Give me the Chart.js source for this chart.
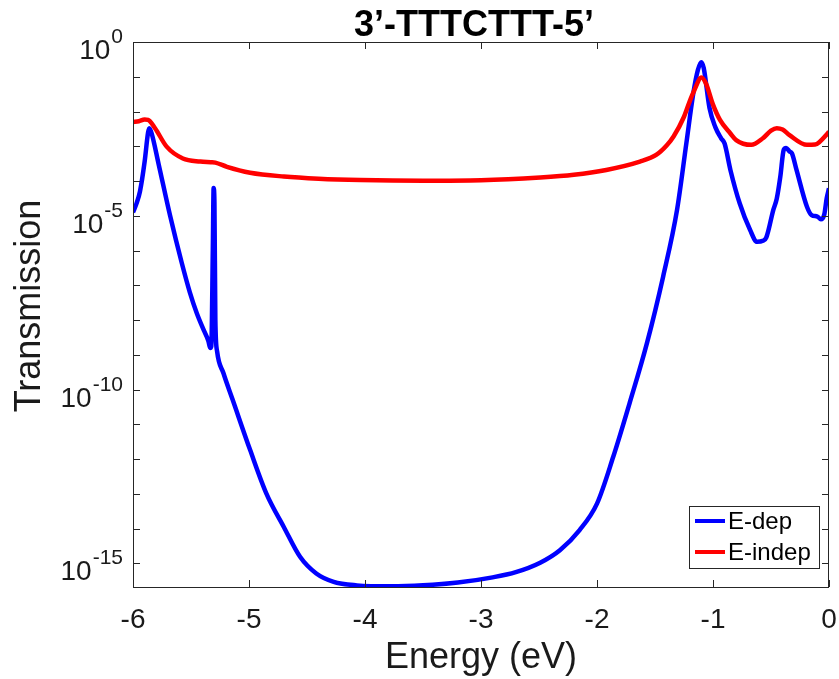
<!DOCTYPE html>
<html>
<head>
<meta charset="utf-8">
<script src="https://cdn.jsdelivr.net/npm/chart.js@4.4.1/dist/chart.umd.min.js"></script>
<style>
  html, body { margin: 0; padding: 0; background: #fff; }
  #wrap { width: 839px; height: 679px; }
</style>
</head>
<body>
<div id="wrap"><canvas id="chart"></canvas></div>
<script>
const chartTitle = "3\u2019-TTTCTTT-5\u2019";
const xTitle = "Energy (eV)";
const yTitle = "Transmission";

// E-dep (blue)
const energyDep = [
  -6.00, -5.97, -5.94, -5.90, -5.87, -5.86, -5.84, -5.78, -5.68, -5.58,
  -5.51, -5.45, -5.39, -5.35, -5.335, -5.325, -5.312, -5.305, -5.298, -5.29,
  -5.275, -5.22, -5.14, -4.99, -4.85, -4.70, -4.56, -4.42, -4.27, -4.07,
  -3.78, -3.50, -3.20, -2.90, -2.70, -2.49, -2.32, -2.15, -2.00, -1.86,
  -1.72, -1.57, -1.43, -1.31, -1.23, -1.17, -1.13, -1.10, -1.08, -1.03,
  -0.98, -0.93, -0.90, -0.85, -0.77, -0.68, -0.62, -0.57, -0.54, -0.48,
  -0.45, -0.42, -0.39, -0.37, -0.34, -0.32, -0.28, -0.19, -0.15, -0.10,
  -0.07, -0.04, -0.02, 0.00
];
const transDep = [
  1.26e-5, 2.24e-5, 5.01e-5, 3.55e-4, 2.51e-3, 3.31e-3, 2.40e-3, 3.16e-4, 1.00e-5, 4.47e-7,
  6.31e-8, 1.58e-8, 5.13e-9, 2.51e-9, 1.58e-9, 1.78e-9, 1.0e-6, 6.31e-5, 2.51e-5, 1.0e-8,
  1.26e-9, 2.95e-10, 5.01e-11, 1.82e-12, 1.02e-13, 1.12e-14, 1.55e-15, 5.13e-16, 2.95e-16, 2.34e-16,
  2.19e-16, 2.34e-16, 2.82e-16, 3.98e-16, 5.62e-16, 1.05e-15, 2.40e-15, 9.12e-15, 5.25e-14, 1.17e-12,
  3.98e-11, 2.14e-9, 1.78e-7, 1.48e-5, 1.20e-3, 3.31e-2, 0.158, 0.263, 0.178, 1.26e-2,
  3.55e-3, 1.70e-3, 1.20e-3, 2.09e-4, 2.29e-5, 3.89e-6, 1.78e-6, 1.91e-6, 2.40e-6, 1.48e-5,
  3.16e-5, 1.32e-4, 7.94e-4, 8.91e-4, 7.08e-4, 6.31e-4, 2.09e-4, 1.82e-5, 1.05e-5, 9.55e-6,
  7.94e-6, 1.12e-5, 3.16e-5, 6.17e-5
];

// E-indep (red)
const energyIndep = [
  -6.00, -5.95, -5.90, -5.87, -5.81, -5.71, -5.57, -5.42, -5.33, -5.29,
  -5.19, -4.99, -4.70, -4.40, -4.04, -3.50, -3.00, -2.49, -2.20, -1.92,
  -1.63, -1.49, -1.40, -1.34, -1.25, -1.20, -1.16, -1.10, -1.06, -1.00,
  -0.94, -0.85, -0.80, -0.67, -0.57, -0.50, -0.45, -0.40, -0.34, -0.19,
  -0.12, -0.08, -0.03, 0.00
];
const transIndep = [
  5.01e-3, 5.25e-3, 5.89e-3, 5.75e-3, 3.31e-3, 9.77e-4, 4.47e-4, 3.63e-4, 3.47e-4, 3.39e-4,
  2.57e-4, 1.74e-4, 1.35e-4, 1.17e-4, 1.07e-4, 1.02e-4, 1.05e-4, 1.26e-4, 1.51e-4, 2.09e-4,
  3.63e-4, 5.62e-4, 1.05e-3, 1.91e-3, 7.08e-3, 2.00e-2, 4.17e-2, 9.55e-2, 6.31e-2, 1.58e-2,
  5.75e-3, 2.34e-3, 1.51e-3, 1.10e-3, 1.70e-3, 2.82e-3, 3.31e-3, 3.02e-3, 2.09e-3, 1.10e-3,
  1.12e-3, 1.35e-3, 2.00e-3, 2.63e-3
];

const xTicks = [-6, -5, -4, -3, -2, -1, 0];
const xTickLabels = ["-6", "-5", "-4", "-3", "-2", "-1", "0"];
const yTicks = [1, 1e-1, 1e-2, 1e-3, 1e-4, 1e-5, 1e-6, 1e-7, 1e-8, 1e-9, 1e-10, 1e-11, 1e-12, 1e-13, 1e-14, 1e-15];
const yLabelValues = [1, 1e-5, 1e-10, 1e-15];
const yLabelExps = ["0", "-5", "-10", "-15"];

const FONT = "'Liberation Sans', Arial, Helvetica, sans-serif";
const AXIS = "#262626";

const matlabAxes = {
  id: "matlabAxes",
  afterDatasetsDraw(chart) {
    const { ctx, chartArea: a } = chart;
    const xs = chart.scales.x, ys = chart.scales.y;
    ctx.save();

    // box
    ctx.strokeStyle = AXIS;
    ctx.lineWidth = 1;
    ctx.strokeRect(a.left + 0.5, a.top + 0.5, a.right - a.left - 1, a.bottom - a.top);

    // ticks, pointing inwards
    const tl = 7;
    ctx.beginPath();
    xTicks.forEach(v => {
      const px = Math.round(xs.getPixelForValue(v)) + 0.5;
      ctx.moveTo(px, a.bottom); ctx.lineTo(px, a.bottom - tl);
      ctx.moveTo(px, a.top); ctx.lineTo(px, a.top + tl);
    });
    yTicks.forEach(v => {
      const py = Math.round(ys.getPixelForValue(v)) + 0.5;
      ctx.moveTo(a.left, py); ctx.lineTo(a.left + tl, py);
      ctx.moveTo(a.right, py); ctx.lineTo(a.right - tl, py);
    });
    ctx.stroke();

    // x tick labels
    ctx.fillStyle = "#1a1a1a";
    ctx.font = "28px " + FONT;
    ctx.textAlign = "center";
    ctx.textBaseline = "alphabetic";
    xTicks.forEach((v, i) => {
      ctx.fillText(xTickLabels[i], xs.getPixelForValue(v), a.bottom + 41);
    });

    // y tick labels 10^n
    yLabelValues.forEach((v, i) => {
      const py = ys.getPixelForValue(v);
      const right = a.left - 10;
      ctx.font = "21px " + FONT;
      ctx.textAlign = "right";
      ctx.textBaseline = "alphabetic";
      const ew = ctx.measureText(yLabelExps[i]).width;
      ctx.fillText(yLabelExps[i], right, py + 1);
      ctx.font = "28px " + FONT;
      ctx.fillText("10", right - ew - 1, py + 17);
    });

    // axis titles
    ctx.font = "36px " + FONT;
    ctx.textAlign = "center";
    ctx.textBaseline = "middle";
    ctx.fillText(xTitle, (a.left + a.right) / 2, 658);
    ctx.save();
    ctx.translate(30, 306);
    ctx.rotate(-Math.PI / 2);
    ctx.fillText(yTitle, 0, 0);
    ctx.restore();

    // title
    ctx.fillStyle = "#000";
    ctx.font = "bold 36px " + FONT;
    ctx.textBaseline = "alphabetic";
    ctx.fillText(chartTitle, 474, 36);

    // legend
    const lx = 689, ly = 506, lw = 130, lh = 62;
    ctx.fillStyle = "#fff";
    ctx.fillRect(lx, ly, lw, lh);
    ctx.strokeStyle = AXIS;
    ctx.lineWidth = 1;
    ctx.strokeRect(lx + 0.5, ly + 0.5, lw, lh);
    chart.data.datasets.forEach((ds, i) => {
      const yy = ly + 15 + i * 31;
      ctx.strokeStyle = ds.borderColor;
      ctx.lineWidth = 4;
      ctx.beginPath();
      ctx.moveTo(lx + 6, yy); ctx.lineTo(lx + 36, yy);
      ctx.stroke();
      ctx.fillStyle = "#000";
      ctx.font = "24px " + FONT;
      ctx.textAlign = "left";
      ctx.textBaseline = "middle";
      ctx.fillText(ds.label, lx + 39, yy + 1);
    });

    ctx.restore();
  }
};

const ctx = document.getElementById("chart");
new Chart(ctx, {
  type: "line",
  data: {
    datasets: [
      {
        label: "E-dep",
        data: energyDep.map((e, i) => ({ x: e, y: transDep[i] })),
        borderColor: "#0000ff",
        borderWidth: 4.5,
        pointRadius: 0,
        cubicInterpolationMode: "monotone",
        fill: false,
        order: 2,
      },
      {
        label: "E-indep",
        data: energyIndep.map((e, i) => ({ x: e, y: transIndep[i] })),
        borderColor: "#ff0000",
        borderWidth: 4.5,
        pointRadius: 0,
        cubicInterpolationMode: "monotone",
        fill: false,
        order: 1,
      },
    ],
  },
  options: {
    responsive: true,
    maintainAspectRatio: false,
    animation: false,
    layout: { padding: { left: 133, right: 10, top: 42, bottom: 92 } },
    plugins: {
      legend: { display: false },
      title: { display: false },
      tooltip: { enabled: false },
    },
    scales: {
      x: { type: "linear", min: -6, max: 0, display: false },
      y: { type: "logarithmic", min: 2.1e-16, max: 1, display: false },
    },
  },
  plugins: [matlabAxes],
});
</script>
</body>
</html>
